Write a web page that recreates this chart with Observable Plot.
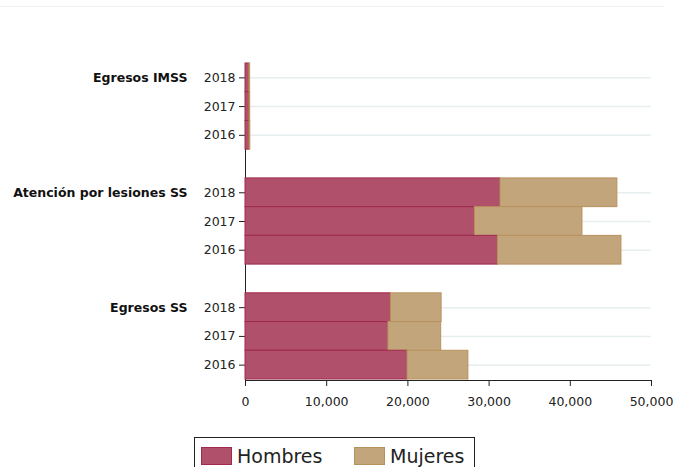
<!DOCTYPE html>
<html>
<head>
<meta charset="utf-8">
<script src="https://cdn.jsdelivr.net/npm/d3@7"></script>
<script src="https://cdn.jsdelivr.net/npm/@observablehq/plot@0.6"></script>
<style>
  body { margin: 0; background: #fff; font-family: "DejaVu Sans", sans-serif; }
  #topline { position: absolute; left: 0; top: 6px; width: 664px; height: 1px; background: #f2f2f2; }
  #chart { position: absolute; left: 0; top: 0; }
  #legend { position: absolute; left: 194px; top: 437px; width: 281px; height: 40px;
            border: 1px solid #222; box-sizing: border-box; font-size: 19px; color: #222; }
  .item { position: absolute; top: 7px; display: flex; align-items: center; line-height: 22px; }
  .sw { width: 31px; height: 18px; margin-right: 5px; box-sizing: border-box; border: 1px solid; }
</style>
</head>
<body>
<div id="topline"></div>
<div id="chart"></div>
<div id="legend">
  <div class="item" style="left:6px"><div class="sw" style="background:#b0506a;border-color:#a02a4c"></div>Hombres</div>
  <div class="item" style="left:159px"><div class="sw" style="background:#c3a57b;border-color:#b8925e"></div>Mujeres</div>
</div>
<script>
// Data
const groups = ["Egresos IMSS", "Atención por lesiones SS", "Egresos SS"];
const years = ["2018", "2017", "2016"];
const hombresIMSS = [480, 500, 500];
const mujeresIMSS = [90, 80, 90];
const hombresLesiones = [31400, 28250, 31100];
const mujeresLesiones = [14400, 13250, 15200];
const hombresEgresosSS = [17900, 17600, 19950];
const mujeresEgresosSS = [6250, 6500, 7500];
const xTicks = [0, 10000, 20000, 30000, 40000, 50000];

const hombres = [hombresIMSS, hombresLesiones, hombresEgresosSS];
const mujeres = [mujeresIMSS, mujeresLesiones, mujeresEgresosSS];

const rows = [];
const domain = [];
groups.forEach((g, gi) => {
  if (gi > 0) domain.push("gap" + gi);
  years.forEach((y, yi) => {
    const key = g + "|" + y;
    domain.push(key);
    rows.push({key, group: g, year: y, sexo: "Hombres", value: hombres[gi][yi]});
    rows.push({key, group: g, year: y, sexo: "Mujeres", value: mujeres[gi][yi]});
  });
});
const realKeys = domain.filter(d => !d.startsWith("gap"));
const labels = groups.map(g => ({group: g, key: g + "|" + years[0]}));

const chart = Plot.plot({
  width: 676,
  height: 420,
  marginLeft: 245,
  marginRight: 25,
  marginTop: 63,
  marginBottom: 40,
  style: {fontFamily: "DejaVu Sans, sans-serif", fontSize: "12.5px", color: "#222", background: "transparent"},
  x: {domain: [0, 50000], ticks: xTicks, tickFormat: d3.format(","), label: null, line: true, tickSize: 6, tickPadding: 11},
  y: {domain, ticks: realKeys, tickFormat: d => d.split("|")[1], padding: 0, round: false, insetBottom: 1, label: null, line: true, tickSize: 6, tickPadding: 4},
  color: {domain: ["Hombres", "Mujeres"], range: ["#b0506a", "#c3a57b"]},
  marks: [
    Plot.gridY(realKeys, {stroke: "#e6eef0", strokeOpacity: 1, strokeWidth: 1.5}),
    Plot.barX(rows, Plot.stackX({
      y: "key", x: "value", fill: "sexo",
      stroke: d => d.sexo === "Hombres" ? "#a02a4c" : "#b8925e",
      strokeWidth: 1, order: ["Hombres", "Mujeres"]
    })),
    Plot.text(labels, {y: "key", x: 0, text: "group", dx: -58, textAnchor: "end", fontWeight: "bold", fill: "#111"})
  ]
});
document.getElementById("chart").appendChild(chart);
</script>
</body>
</html>
